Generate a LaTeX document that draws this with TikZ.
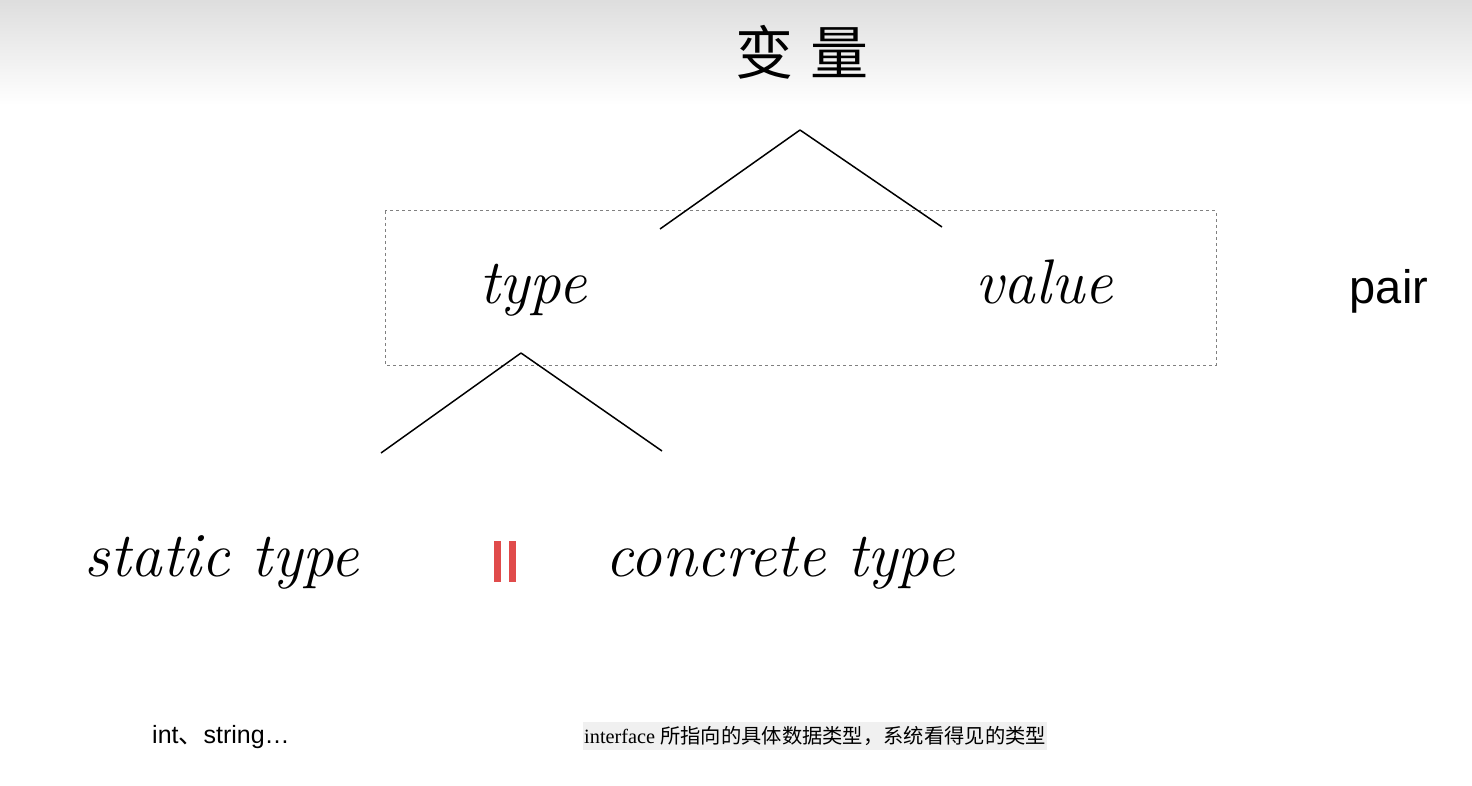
\documentclass[tikz,border=0pt]{standalone}
\usepackage{fontspec}
\newfontfamily\cjk{Noto Sans CJK SC}
\newfontfamily\plainsans{Liberation Sans}
\newfontfamily\plainserif{Liberation Serif}
\definecolor{barred}{HTML}{E04B4B}
\begin{document}
\begin{tikzpicture}[x=1pt,y=-1pt,every node/.style={inner sep=0pt},
		hand/.style={font=\fontsize{63}{63}\selectfont\itshape,anchor=base},
		fork/.style={line width=1.5pt}]
	\useasboundingbox (0,0) rectangle (1472,786);
	\shade[top color=black!13,bottom color=white,draw=none] (0,0) rectangle (1472,105);
	\node (title) at (802,52) {\cjk\fontsize{58}{58}\selectfont 变\hspace{18pt}量};
	% pair box
	\draw[gray,dashed,line width=1pt] (385,211) rectangle (1216,365);
	\node[hand] (type) at (533,303) {type};
	\node[hand] (value) at (1044,303) {value};
	\node[font=\plainsans\fontsize{47}{47}\selectfont] (pair) at (1389,291) {pair};
	\node[hand] (static) at (222,576) {static type};
	\node[hand] (concrete) at (780,576) {concrete type};
	% forks
	\coordinate (top) at (800,130);
	\coordinate (topl) at (660,229);
	\coordinate (topr) at (942,227);
	\coordinate (mid) at (521,353);
	\coordinate (midl) at (381,453);
	\coordinate (midr) at (662,451);
	\foreach \x/\y in {top/topl,top/topr,mid/midl,mid/midr}
		\draw[fork] (\x) -- (\y);
	% equals bars
	\node[fill=barred,minimum width=7pt,minimum height=41pt] (barl) at (497.5,561.5) {};
	\node[fill=barred,minimum width=7pt,minimum height=41pt] (barr) at (512.5,561.5) {};
	% notes
	\node[font=\plainsans\fontsize{25}{25}\selectfont,anchor=west] (static note) at (152,737) {int{\cjk 、}string…};
	\node[fill=gray!12,inner xsep=1pt,inner ysep=4pt,anchor=west,font=\fontsize{20.3}{20.3}\selectfont] (concrete note) at (583,736)
		{\plainserif interface {\cjk 所指向的具体数据类型，系统看得见的类型}};
\end{tikzpicture}
\end{document}
